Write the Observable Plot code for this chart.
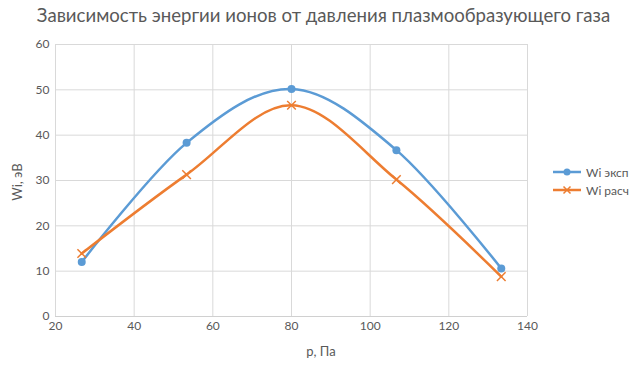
<!DOCTYPE html>
<html>
<head>
<meta charset="utf-8">
<script src="https://cdn.jsdelivr.net/npm/d3@7"></script>
<script src="https://cdn.jsdelivr.net/npm/@observablehq/plot@0.6"></script>
<style>
  body { margin: 0; background: #fff; font-family: Lato, "Open Sans", sans-serif; }
  #wrap { position: relative; width: 643px; height: 378px; overflow: hidden; }
  .title { position: absolute; left: 2px; width: 643px; top: 4px; text-align: center; font-size: 18.6px; color: #595959; }
  .ylab { position: absolute; left: 17px; top: 182px; transform: translate(-50%, -50%) rotate(-90deg); font-size: 13px; color: #595959; white-space: nowrap; }
  .xlab { position: absolute; left: 291px; width: 60px; text-align: center; top: 343px; font-size: 13px; color: #595959; }
  .legend { position: absolute; left: 553px; top: 163px; font-size: 12px; color: #595959; }
  .legend div { display: flex; align-items: center; height: 18px; }
  .legend svg { margin-right: 5px; }
  #chart { position: absolute; left: 0; top: 0; }
</style>
</head>
<body>
<div id="wrap">
  <div id="chart"></div>
  <div class="title">Зависимость энергии ионов от давления плазмообразующего газа</div>
  <div class="ylab">Wi, эВ</div>
  <div class="xlab">р, Па</div>
  <div class="legend" id="legend"></div>
</div>
<script>
const pressure = [26.67, 53.33, 80, 106.67, 133.33];
const wiExp = [12.0, 38.3, 50.2, 36.7, 10.6];
const wiCalc = [13.9, 31.3, 46.6, 30.2, 8.8];
const seriesNames = ["Wi эксп", "Wi расч"];
const colors = ["#5b9bd5", "#ed7d31"];
const xTicks = [20, 40, 60, 80, 100, 120, 140];
const yTicks = [0, 10, 20, 30, 40, 50, 60];

const expData = pressure.map((p, i) => ({p, w: wiExp[i]}));
const calcData = pressure.map((p, i) => ({p, w: wiCalc[i]}));

const chart = Plot.plot({
  width: 643,
  height: 378,
  marginTop: 44,
  marginBottom: 62,
  marginLeft: 55,
  marginRight: 116,
  style: {fontFamily: "Lato, sans-serif", fontSize: "12px", color: "#595959", background: "transparent"},
  x: {domain: [20, 140], ticks: xTicks, label: null},
  y: {domain: [0, 60], ticks: yTicks, label: null},
  marks: [
    Plot.gridX(xTicks, {stroke: "#d9d9d9", strokeOpacity: 1}),
    Plot.gridY(yTicks, {stroke: "#d9d9d9", strokeOpacity: 1}),
    Plot.ruleY([0], {stroke: "#d0d0d0"}),
    Plot.axisX(xTicks, {tickSize: 0, tickPadding: 5, fill: "#595959", fontSize: 12}),
    Plot.axisY(yTicks, {tickSize: 0, tickPadding: 6, fill: "#595959", fontSize: 12}),
    Plot.line(expData, {x: "p", y: "w", stroke: colors[0], strokeWidth: 2.5, curve: "cardinal"}),
    Plot.line(calcData, {x: "p", y: "w", stroke: colors[1], strokeWidth: 2.5, curve: "cardinal"}),
    Plot.dot(expData, {x: "p", y: "w", fill: colors[0], r: 4, symbol: "circle"}),
    Plot.dot(calcData, {x: "p", y: "w", stroke: colors[1], r: 4, strokeWidth: 1.5, symbol: "times"})
  ]
});
document.getElementById("chart").appendChild(chart);

const legend = document.getElementById("legend");
seriesNames.forEach((name, i) => {
  const row = document.createElement("div");
  const marker = i === 0
    ? `<circle cx="14" cy="5" r="3.5" fill="${colors[0]}"/>`
    : `<path d="M10.5,1.5L17.5,8.5M17.5,1.5L10.5,8.5" stroke="${colors[1]}" stroke-width="1.5"/>`;
  row.innerHTML = `<svg width="28" height="10"><line x1="0" y1="5" x2="28" y2="5" stroke="${colors[i]}" stroke-width="2.5"/>${marker}</svg><span>${name}</span>`;
  legend.appendChild(row);
});
</script>
</body>
</html>
